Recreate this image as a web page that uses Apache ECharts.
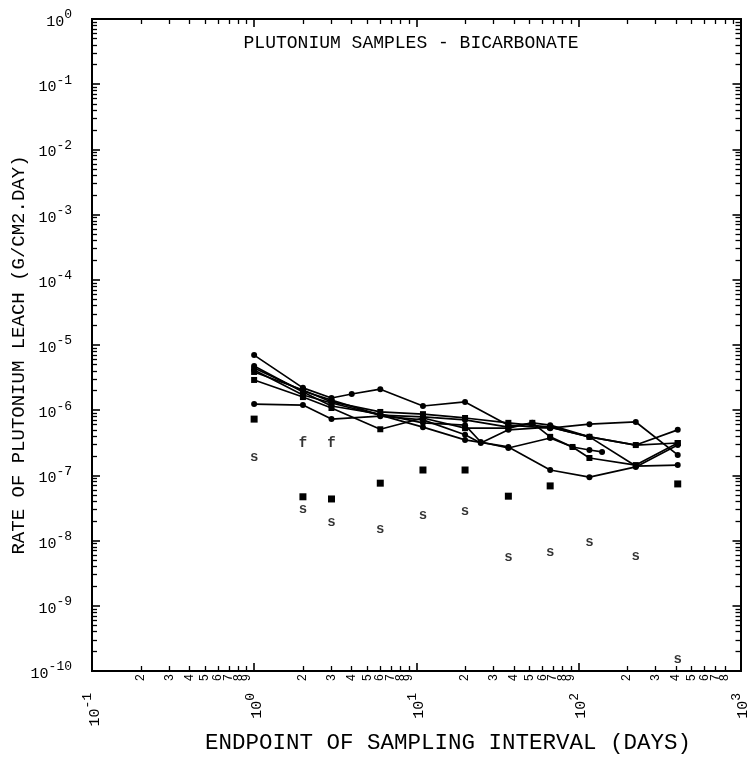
<!DOCTYPE html>
<html>
<head>
<meta charset="utf-8">
<script src="https://cdn.jsdelivr.net/npm/echarts@6/dist/echarts.min.js"></script>
<style>
html,body{margin:0;padding:0;background:#fff;}
#chart{width:751px;height:758px;}
</style>
</head>
<body>
<div id="chart"></div>
<script>
// ---- Axis ranges / tick labels ----
const xRange = [0.1, 1000];
const yRange = [1e-10, 1];
const xDecades = [-1, 0, 1, 2, 3];       // exponents of labelled x ticks
const yDecades = [-10, -9, -8, -7, -6, -5, -4, -3, -2, -1, 0]; // exponents of labelled y ticks
const minorDigits = [2, 3, 4, 5, 6, 7, 8, 9];

// ---- Connected sample curves (days, rate g/cm2.day) ----
const s1Days  = [1, 2, 3, 4, 6, 11, 20, 37, 67, 117, 226, 410];
const s1Rates = [7.0e-6, 2.2e-6, 1.54e-6, 1.77e-6, 2.1e-6, 1.16e-6, 1.34e-6, 5.9e-7, 5.3e-7, 6.1e-7, 6.6e-7, 2.06e-7];

const s2Days  = [1, 2, 3, 6, 11, 20, 37, 67, 117, 226, 410];
const s2Rates = [3.86e-6, 2.04e-6, 1.34e-6, 9.4e-7, 8.7e-7, 7.6e-7, 6.4e-7, 5.5e-7, 3.9e-7, 2.92e-7, 3.14e-7];

const s3Days  = [1, 2, 3, 6, 11, 20, 37, 52, 67, 92, 117, 226, 410];
const s3Rates = [2.91e-6, 1.59e-6, 1.08e-6, 5.1e-7, 7.6e-7, 5.3e-7, 5.3e-7, 6.4e-7, 3.9e-7, 2.73e-7, 1.85e-7, 1.44e-7, 3.14e-7];

const s4Days  = [1, 2, 3, 6, 11, 20, 25, 37, 67, 117, 226, 410];
const s4Rates = [1.24e-6, 1.2e-6, 7.3e-7, 8.1e-7, 7.1e-7, 4.2e-7, 3.14e-7, 5.0e-7, 5.5e-7, 3.9e-7, 1.39e-7, 1.44e-7];

const s5Days  = [1, 2, 3, 6, 11, 20, 37, 67, 117, 226, 410];
const s5Rates = [4.14e-6, 1.71e-6, 1.29e-6, 8.4e-7, 5.5e-7, 3.5e-7, 2.73e-7, 1.21e-7, 9.4e-8, 1.35e-7, 2.92e-7];

const s6Days  = [1, 2, 3, 6, 11, 20, 25, 37, 67, 92, 117, 140];
const s6Rates = [4.76e-6, 1.9e-6, 1.16e-6, 8.7e-7, 6.4e-7, 5.9e-7, 3.25e-7, 2.63e-7, 3.75e-7, 2.73e-7, 2.45e-7, 2.29e-7];

const s7Days  = [1, 2, 3, 6, 11, 20, 37, 52, 67, 117, 226, 410];
const s7Rates = [4.44e-6, 1.97e-6, 1.43e-6, 8.4e-7, 7.9e-7, 7.1e-7, 5.5e-7, 6.4e-7, 5.9e-7, 3.9e-7, 2.92e-7, 5.0e-7];

// ---- Unconnected points ----
const sqDays  = [1, 2, 3, 6, 11, 20, 37, 67, 410];
const sqRates = [7.3e-7, 4.7e-8, 4.35e-8, 7.6e-8, 1.21e-7, 1.21e-7, 4.8e-8, 6.9e-8, 7.4e-8];

const fDays  = [2, 3];
const fRates = [3.14e-7, 3.14e-7];

const sDays  = [1, 2, 3, 6, 11, 20, 37, 67, 117, 226, 410];
const sRates = [1.91e-7, 2.95e-8, 1.93e-8, 1.46e-8, 2.4e-8, 2.75e-8, 5.6e-9, 6.5e-9, 9.5e-9, 5.8e-9, 1.48e-10];

// ---- build ----
const FONT = 'Liberation Mono';
const pairs = (a, b) => a.map((d, i) => [d, b[i]]);
const minorX = [];
xDecades.slice(0, -1).forEach(d => minorDigits.forEach(k => minorX.push(d + Math.log10(k))));
const minorY = [];
yDecades.slice(0, -1).forEach(d => minorDigits.forEach(k => minorY.push(d + Math.log10(k))));

const rich = {
  b: {fontFamily: FONT, fontSize: 15, color: '#000', verticalAlign: 'bottom'},
  e: {fontFamily: FONT, fontSize: 13, color: '#000', verticalAlign: 'top', padding: [0, 0, 8, 0]}
};
const expFmt = v => '{b|10}{e|' + Math.round(Math.log10(v)) + '}';
const axLine = {show: true, onZero: false, lineStyle: {color: '#000', width: 2}};
const majorTick = {show: true, inside: true, length: 8, lineStyle: {color: '#000', width: 1.6}};
const minorTickCfg = vals => ({show: true, inside: true, length: 5, customValues: vals, lineStyle: {color: '#000', width: 1.3}});
const off = {show: false};

function logAxis(pos, range, label) {
  return {type: 'log', logBase: 10, min: range[0], max: range[1], interval: 1, position: pos,
          axisLine: axLine, axisTick: majorTick, axisLabel: label || off, splitLine: off, minorTick: off};
}
function minorAxis(pos, min, max, vals, label) {
  return {type: 'value', min: min, max: max, position: pos, axisLine: axLine,
          axisTick: minorTickCfg(vals), axisLabel: label || off, splitLine: off, minorTick: off};
}

function lineSeries(days, rates, sym) {
  return {
    type: 'line', xAxisIndex: 0, yAxisIndex: 0,
    data: pairs(days, rates),
    symbol: sym, symbolSize: 6,
    lineStyle: {color: '#000', width: 1.7},
    itemStyle: {color: '#000', opacity: 1},
    z: 3, animation: false
  };
}
function textScatter(days, rates, ch) {
  return {
    type: 'scatter', xAxisIndex: 0, yAxisIndex: 0,
    data: pairs(days, rates),
    symbol: 'circle', symbolSize: 8,
    itemStyle: {color: 'rgba(0,0,0,0)'},
    label: {show: true, position: 'inside', formatter: ch, color: '#000',
            fontFamily: FONT, fontWeight: 'bold', fontSize: 14},
    animation: false
  };
}

const xMinL = xDecades[0], xMaxL = xDecades[xDecades.length - 1];
const yMinL = yDecades[0], yMaxL = yDecades[yDecades.length - 1];

const chart = echarts.init(document.getElementById('chart'), null, {renderer: 'canvas'});
chart.setOption({
  backgroundColor: '#fff',
  animation: false,
  grid: {left: 92, right: 7, top: 19, bottom: 87},
  xAxis: [
    logAxis('bottom', xRange, {show: true, rotate: 90, margin: 22, formatter: expFmt, rich: rich,
                                showMinLabel: true, showMaxLabel: true}),
    minorAxis('bottom', xMinL, xMaxL, minorX,
      {show: true, rotate: 90, margin: 3, customValues: minorX, fontFamily: FONT, fontSize: 12, color: '#000',
       formatter: v => String(Math.round(Math.pow(10, v - Math.floor(v + 1e-9))))}),
    logAxis('top', xRange),
    minorAxis('top', xMinL, xMaxL, minorX)
  ],
  yAxis: [
    logAxis('left', yRange, {show: true, margin: 20, formatter: expFmt, rich: rich,
                             showMinLabel: true, showMaxLabel: true}),
    minorAxis('left', yMinL, yMaxL, minorY),
    logAxis('right', yRange),
    minorAxis('right', yMinL, yMaxL, minorY)
  ],
  graphic: [
    {type: 'text', x: 411, y: 43, style: {text: 'PLUTONIUM SAMPLES - BICARBONATE', fill: '#000',
      font: '18px "Liberation Mono"', textAlign: 'center', textVerticalAlign: 'middle'}},
    {type: 'text', x: 448, y: 743, style: {text: 'ENDPOINT OF SAMPLING INTERVAL (DAYS)', fill: '#000',
      font: '22.5px "Liberation Mono"', textAlign: 'center', textVerticalAlign: 'middle'}},
    {type: 'text', x: 19, y: 355, rotation: Math.PI / 2, style: {text: 'RATE OF PLUTONIUM LEACH (G/CM2.DAY)', fill: '#000',
      font: '19px "Liberation Mono"', textAlign: 'center', textVerticalAlign: 'middle'}}
  ],
  series: [
    lineSeries(s1Days, s1Rates, 'circle'),
    lineSeries(s2Days, s2Rates, 'rect'),
    lineSeries(s3Days, s3Rates, 'rect'),
    lineSeries(s4Days, s4Rates, 'circle'),
    lineSeries(s5Days, s5Rates, 'circle'),
    lineSeries(s6Days, s6Rates, 'circle'),
    lineSeries(s7Days, s7Rates, 'circle'),
    {type: 'scatter', xAxisIndex: 0, yAxisIndex: 0, data: pairs(sqDays, sqRates),
     symbol: 'rect', symbolSize: 7, itemStyle: {color: '#000', opacity: 1}, animation: false},
    textScatter(fDays, fRates, 'f'),
    textScatter(sDays, sRates, 's')
  ]
});
</script>
</body>
</html>
